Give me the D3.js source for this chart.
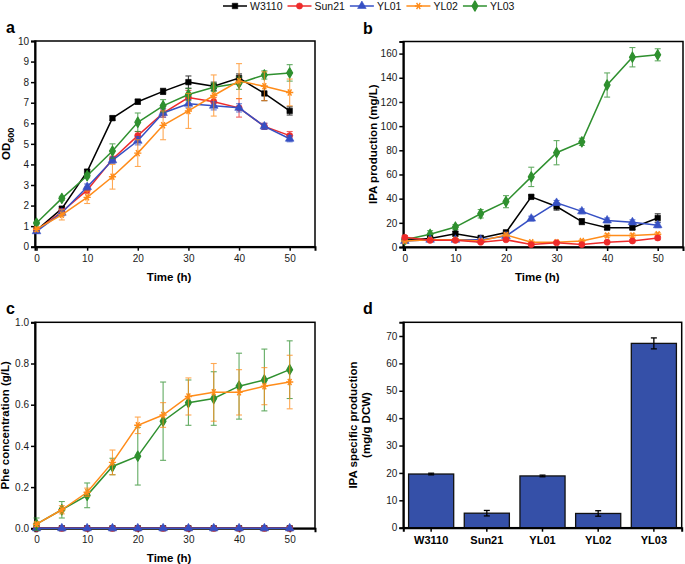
<!DOCTYPE html>
<html>
<head>
<meta charset="utf-8">
<script src="https://cdn.jsdelivr.net/npm/d3@7"></script>
<style>
  body { margin: 0; background: #fff; }
  svg, svg text { font-family: Arial, "Liberation Sans", Helvetica, sans-serif; }
</style>
</head>
<body>
<div id="chart"></div>
<script>
// data
var strains = ["W3110", "Sun21", "YL01", "YL02", "YL03"];
var times = [0, 5, 10, 15, 20, 25, 30, 35, 40, 45, 50];

// a: OD600
var odW3110 = [0.8, 1.85, 3.65, 6.25, 7.05, 7.55, 8.0, 7.8, 8.2, 7.45, 6.6];
var odSun21 = [0.8, 1.7, 2.75, 4.25, 5.4, 6.5, 7.25, 7.05, 6.75, 5.85, 5.4];
var odYL01 = [0.75, 1.65, 2.9, 4.2, 5.15, 6.5, 6.95, 6.85, 6.75, 5.85, 5.25];
var odYL02 = [0.85, 1.55, 2.4, 3.4, 4.55, 5.9, 6.6, 7.35, 8.05, 7.8, 7.5];
var odYL03 = [1.15, 2.35, 3.45, 4.65, 6.05, 6.85, 7.4, 7.75, 7.95, 8.35, 8.45];
var odW3110Err = [0.05, 0.1, 0.1, 0.1, 0.12, 0.15, 0.3, 0.2, 0.2, 0.35, 0.2];
var odSun21Err = [0.05, 0.15, 0.15, 0.15, 0.2, 0.2, 0.35, 0.2, 0.45, 0.15, 0.2];
var odYL01Err = [0.05, 0.15, 0.15, 0.15, 0.2, 0.2, 0.2, 0.2, 0.2, 0.15, 0.15];
var odYL02Err = [0.1, 0.25, 0.3, 0.6, 0.65, 0.7, 0.85, 1.0, 0.85, 0.7, 0.65];
var odYL03Err = [0.05, 0.1, 0.1, 0.35, 0.45, 0.3, 0.3, 0.2, 0.3, 0.2, 0.4];

// b: IPA production (mg/L)
var ipaW3110 = [5.5, 7, 11, 7.5, 12, 41.5, 33.5, 21, 16, 16, 24];
var ipaSun21 = [8, 5.5, 5.5, 4, 6, 2, 3.5, 2, 4, 5, 7.5];
var ipaYL01 = [5, 6, 6, 6, 9, 23.5, 36.5, 29.5, 22, 20.5, 18];
var ipaYL02 = [5, 6, 6, 5, 10, 4, 4, 5, 9.5, 9.5, 10.5];
var ipaYL03 = [6, 10.5, 16.5, 27.5, 37.5, 58, 78, 87, 134, 157, 159];
var ipaW3110Err = [1.5, 1.5, 2, 1.5, 2, 1.5, 3, 2.5, 1.5, 1.5, 3.5];
var ipaSun21Err = [1.5, 1, 1, 1, 1, 1, 1, 1, 1, 1, 1.5];
var ipaYL01Err = [1.5, 1, 1, 1, 1.5, 2, 2, 2, 2, 2, 2];
var ipaYL02Err = [1.5, 1, 1, 1, 1.5, 1, 1, 1, 1.5, 1.5, 1.5];
var ipaYL03Err = [1.5, 3, 2, 3.5, 5, 8, 10, 3, 10, 8, 5];

// c: Phe concentration (g/L)
var pheW3110 = [0, 0, 0, 0, 0, 0, 0, 0, 0, 0, 0];
var pheSun21 = [0, 0, 0, 0, 0, 0, 0, 0, 0, 0, 0];
var pheYL01 = [0, 0, 0, 0, 0, 0, 0, 0, 0, 0, 0];
var pheYL02 = [0.02, 0.09, 0.175, 0.32, 0.5, 0.55, 0.64, 0.66, 0.66, 0.69, 0.71];
var pheYL03 = [0.02, 0.09, 0.16, 0.3, 0.35, 0.52, 0.61, 0.63, 0.69, 0.72, 0.77];
var pheZeroErr = [0, 0, 0, 0, 0, 0, 0, 0, 0, 0, 0];
var pheYL02Err = [0.01, 0.02, 0.02, 0.06, 0.04, 0.06, 0.09, 0.14, 0.11, 0.09, 0.13];
var pheYL03Err = [0.03, 0.04, 0.06, 0.04, 0.14, 0.19, 0.11, 0.13, 0.16, 0.15, 0.14];

// d: IPA specific production (mg/g DCW)
var specific = [19.6, 5.3, 18.9, 5.2, 67.3];
var specificErr = [0.3, 1.0, 0.3, 1.0, 2.0];

var colors = ["#000000", "#ee2b2b", "#3650c4", "#ff8c1a", "#2f902f"];
var symbols = [d3.symbolSquare, d3.symbolCircle, d3.symbolTriangle, d3.symbolAsterisk, d3.symbolDiamond];
var FONT = "Arial, Liberation Sans, Helvetica, sans-serif";

var W = 685, H = 564;
var svg = d3.select("#chart").append("svg").attr("width", W).attr("height", H)
  .attr("font-family", FONT);

//******************
// Legend
//******************
var legend = svg.append("g").attr("transform", "translate(223,6)");
var lx = 0;
strains.forEach(function (s, i) {
  var g = legend.append("g").attr("transform", `translate(${lx},0)`);
  g.append("line").attr("x1", 0).attr("x2", 24).attr("y1", 0).attr("y2", 0)
    .attr("stroke", colors[i]).attr("stroke-width", 1.5);
  drawMarker(g, i, 12, 0);
  var t = g.append("text").attr("x", 27).attr("y", 4).attr("font-size", 10.5)
    .attr("fill", "#111").text(s);
  lx += 27 + t.node().getComputedTextLength() + 5;
});

function drawMarker(g, i, x, y) {
  var isStar = symbols[i] === d3.symbolAsterisk;
  var size = [30, 30, 32, 36, 30][i];
  g.append("path")
    .attr("d", d3.symbol().type(symbols[i]).size(size)())
    .attr("transform", `translate(${x},${y})` + (isStar ? " rotate(90)" : ""))
    .attr("fill", isStar ? "none" : colors[i])
    .attr("stroke", colors[i])
    .attr("stroke-width", isStar ? 1.4 : (i === 4 ? 1.2 : 0.6))
    .attr("stroke-linejoin", "round");
}

function styleAxis(a) {
  a.attr("font-family", FONT);
  a.select(".domain").attr("stroke-width", 2);
  a.selectAll(".tick line").attr("stroke-width", 1.5);
  a.selectAll(".tick text").attr("font-size", 10).attr("fill", "#1a1a1a");
}

//******************
// Line panels
//******************
function linePanel(opt) {
  var x = d3.scaleLinear().domain([-0.3, 55]).range([opt.left, opt.right]);
  var y = d3.scaleLinear().domain(opt.yDomain).range([opt.bottom, opt.top]);
  var g = svg.append("g");

  // frame
  g.append("rect").attr("x", opt.left).attr("y", opt.top)
    .attr("width", opt.right - opt.left).attr("height", opt.bottom - opt.top)
    .attr("fill", "none").attr("stroke", "#000").attr("stroke-width", 1.5);

  var xAxis = g.append("g").attr("transform", `translate(0,${opt.bottom})`)
    .call(d3.axisBottom(x).tickValues([0, 10, 20, 30, 40, 50]).tickSize(4).tickPadding(4));
  var yAxis = g.append("g").attr("transform", `translate(${opt.left},0)`)
    .call(d3.axisLeft(y).tickValues(opt.yTicks).tickSize(4).tickPadding(2)
      .tickFormat(opt.fmt));
  styleAxis(xAxis);
  styleAxis(yAxis);

  var line = d3.line().x((d) => x(d[0])).y((d) => y(d[1]));
  opt.order.forEach(function (i) {
    var vals = opt.series[i], errs = opt.errors[i];
    var pts = times.map((t, k) => [t, vals[k], errs[k]]);
    var sg = g.append("g");
    // error bars
    pts.forEach(function (p) {
      if (p[2] <= 0) return;
      var eg = sg.append("g").attr("stroke", colors[i]).attr("stroke-width", 1.1).attr("opacity", 0.75);
      eg.append("line").attr("x1", x(p[0])).attr("x2", x(p[0]))
        .attr("y1", y(p[1] - p[2])).attr("y2", y(p[1] + p[2]));
      [p[1] - p[2], p[1] + p[2]].forEach(function (v) {
        eg.append("line").attr("x1", x(p[0]) - 3).attr("x2", x(p[0]) + 3)
          .attr("y1", y(v)).attr("y2", y(v));
      });
    });
    sg.append("path").datum(pts).attr("d", line).attr("fill", "none")
      .attr("stroke", colors[i]).attr("stroke-width", 1.5);
    pts.forEach(function (p) { drawMarker(sg, i, x(p[0]), y(p[1])); });
  });

  // titles
  g.append("text").attr("x", (x(0) + x(50)) / 2 + 6).attr("y", opt.bottom + 34)
    .attr("text-anchor", "middle").attr("font-size", 11.5).attr("font-weight", "bold")
    .text("Time (h)");
  var yt = g.append("text")
    .attr("transform", `translate(${opt.yTitleX},${(opt.top + opt.bottom) / 2}) rotate(-90)`)
    .attr("text-anchor", "middle").attr("font-size", 11.5).attr("font-weight", "bold");
  if (opt.yTitle === "OD") {
    yt.append("tspan").text("OD");
    yt.append("tspan").attr("dy", 4).attr("font-size", 9).text("600");
  } else {
    yt.text(opt.yTitle);
  }
  g.append("text").attr("x", opt.letterX).attr("y", opt.top - 8)
    .attr("font-family", "Liberation Serif, Times New Roman, serif")
    .attr("font-weight", "bold").attr("font-size", 16).text(opt.letter);
}

linePanel({
  left: 35, right: 315, top: 41, bottom: 246.7,
  yDomain: [0, 10], yTicks: d3.range(0, 11), fmt: d3.format("d"),
  series: [odW3110, odSun21, odYL01, odYL02, odYL03],
  errors: [odW3110Err, odSun21Err, odYL01Err, odYL02Err, odYL03Err],
  order: [0, 1, 2, 4, 3],
  yTitle: "OD", yTitleX: 10, letter: "a", letterX: 6
});

linePanel({
  left: 403.3, right: 683, top: 41.5, bottom: 247,
  yDomain: [0, 170], yTicks: d3.range(0, 161, 20), fmt: d3.format("d"),
  series: [ipaW3110, ipaSun21, ipaYL01, ipaYL02, ipaYL03],
  errors: [ipaW3110Err, ipaSun21Err, ipaYL01Err, ipaYL02Err, ipaYL03Err],
  order: [4, 0, 2, 3, 1],
  yTitle: "IPA production (mg/L)", yTitleX: 377, letter: "b", letterX: 363
});

linePanel({
  left: 35, right: 315, top: 322.3, bottom: 528.3,
  yDomain: [0, 1], yTicks: d3.range(0, 1.01, 0.2), fmt: d3.format(".1f"),
  series: [pheW3110, pheSun21, pheYL01, pheYL02, pheYL03],
  errors: [pheZeroErr, pheZeroErr, pheZeroErr, pheYL02Err, pheYL03Err],
  order: [0, 1, 2, 4, 3],
  yTitle: "Phe concentration (g/L)", yTitleX: 9, letter: "c", letterX: 6
});

//******************
// Bar panel d
//******************
(function () {
  var left = 403.3, right = 681.7, top = 322.3, bottom = 527.7;
  var x = d3.scaleBand().domain(strains).range([left, right]).paddingInner(0.19).paddingOuter(0.095);
  var y = d3.scaleLinear().domain([0, 75]).range([bottom, top]);
  var g = svg.append("g");

  g.append("rect").attr("x", left).attr("y", top)
    .attr("width", right - left).attr("height", bottom - top)
    .attr("fill", "none").attr("stroke", "#000").attr("stroke-width", 1.5);

  g.selectAll("rect.bar").data(strains).join("rect").attr("class", "bar")
    .attr("x", (d) => x(d)).attr("width", x.bandwidth())
    .attr("y", (d, i) => y(specific[i])).attr("height", (d, i) => y(0) - y(specific[i]))
    .attr("fill", "#3550a8").attr("stroke", "#111").attr("stroke-width", 1.3);

  strains.forEach(function (s, i) {
    var cx = x(s) + x.bandwidth() / 2;
    var lo = y(specific[i] - specificErr[i]), hi = y(specific[i] + specificErr[i]);
    g.append("line").attr("x1", cx).attr("x2", cx).attr("y1", lo).attr("y2", hi)
      .attr("stroke", "#000").attr("stroke-width", 1.3);
    [lo, hi].forEach(function (v) {
      g.append("line").attr("x1", cx - 3).attr("x2", cx + 3).attr("y1", v).attr("y2", v)
        .attr("stroke", "#000").attr("stroke-width", 1.3);
    });
  });

  var xAxis = g.append("g").attr("transform", `translate(0,${bottom})`)
    .call(d3.axisBottom(x).tickSize(4).tickPadding(5));
  var yAxis = g.append("g").attr("transform", `translate(${left},0)`)
    .call(d3.axisLeft(y).tickValues(d3.range(0, 71, 10)).tickSize(4).tickPadding(2));
  styleAxis(xAxis);
  styleAxis(yAxis);
  xAxis.selectAll(".tick text").attr("font-size", 11).attr("font-weight", "bold").attr("fill", "#000");

  var yt = g.append("text")
    .attr("transform", `translate(357,${(top + bottom) / 2}) rotate(-90)`)
    .attr("text-anchor", "middle").attr("font-size", 11.5).attr("font-weight", "bold");
  yt.append("tspan").attr("x", 0).attr("dy", 0).text("IPA specific production");
  yt.append("tspan").attr("x", 0).attr("dy", 13).text("(mg/g DCW)");

  g.append("text").attr("x", 363).attr("y", top - 8)
    .attr("font-family", "Liberation Serif, Times New Roman, serif")
    .attr("font-weight", "bold").attr("font-size", 16).text("d");
})();
</script>
</body>
</html>
